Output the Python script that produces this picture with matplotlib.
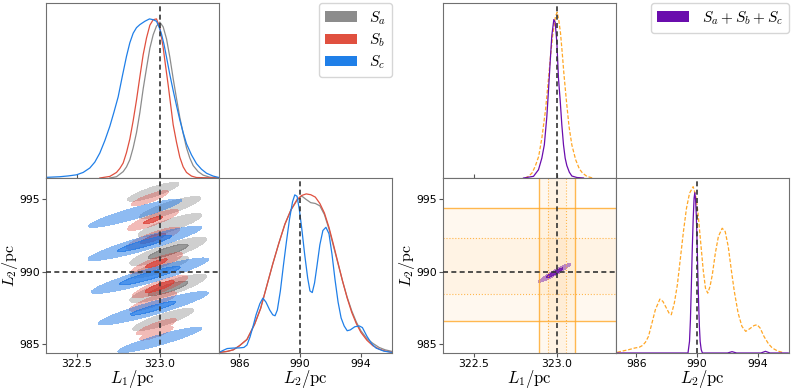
import numpy as np
import matplotlib
matplotlib.use('Agg')
import matplotlib.pyplot as plt
from matplotlib.patches import Patch

plt.rcParams['mathtext.fontset'] = 'cm'
plt.rcParams['font.family'] = ['DejaVu Sans']

truthL1 = 323.0
truthL2 = 990.0

# colours of the three sources, the combined run and the prior
colA = '#8c8c8c'
colB = '#e0503f'
colC = '#1f7fe8'
colABC = '#6a0dad'
colPrior = '#ffa726'

# ---- 1D marginal of L1 (peak normalised)
L1_a_x = [322.70, 322.74, 322.78, 322.80, 322.82, 322.84, 322.86, 322.88, 322.90, 322.92, 322.94,
          322.96, 322.98, 323.00, 323.02, 323.04, 323.06, 323.08, 323.10, 323.12, 323.14, 323.16,
          323.18, 323.20, 323.23, 323.26, 323.30, 323.35]
L1_a_y = [0.0, 0.008, 0.04, 0.07, 0.115, 0.19, 0.285, 0.41, 0.56, 0.69, 0.815, 0.9, 0.955, 0.98,
          0.95, 0.875, 0.76, 0.625, 0.5, 0.38, 0.28, 0.19, 0.125, 0.078, 0.04, 0.018, 0.005, 0.0]
L1_b_x = [322.64, 322.70, 322.74, 322.76, 322.78, 322.80, 322.82, 322.84, 322.86, 322.88, 322.90,
          322.92, 322.94, 322.96, 322.98, 323.00, 323.02, 323.035, 323.05, 323.065, 323.08, 323.10,
          323.12, 323.14, 323.16, 323.19, 323.22, 323.35]
L1_b_y = [0.0, 0.01, 0.035, 0.06, 0.094, 0.16, 0.245, 0.36, 0.49, 0.635, 0.775, 0.88, 0.96, 0.995,
          1.0, 0.945, 0.82, 0.7, 0.585, 0.46, 0.335, 0.225, 0.13, 0.07, 0.035, 0.012, 0.003, 0.0]
L1_c_x = [322.317, 322.40, 322.45, 322.50, 322.54, 322.58, 322.61, 322.64, 322.67, 322.70, 322.725,
          322.75, 322.775, 322.80, 322.82, 322.84, 322.86, 322.88, 322.91, 322.938, 322.96, 322.98,
          322.995, 323.01, 323.025, 323.04, 323.06, 323.08, 323.10, 323.12, 323.14, 323.16, 323.19,
          323.22, 323.25, 323.28, 323.32, 323.351]
L1_c_y = [0.004, 0.008, 0.013, 0.02, 0.035, 0.063, 0.10, 0.157, 0.235, 0.325, 0.415, 0.51, 0.64,
          0.765, 0.85, 0.91, 0.945, 0.964, 0.985, 1.0, 0.995, 0.985, 0.95, 0.905, 0.84, 0.76, 0.65,
          0.55, 0.455, 0.365, 0.285, 0.215, 0.145, 0.09, 0.055, 0.03, 0.012, 0.004]

# ---- 1D marginal of L2
L2_a_x = [984.7, 985.2, 985.6, 986.0, 986.5, 987.0, 987.4, 987.8, 988.2, 988.6, 989.0, 989.4,
          989.8, 990.1, 990.4, 990.7, 991.0, 991.3, 991.6, 991.9, 992.2, 992.5, 992.8, 993.1,
          993.4, 993.7, 994.0, 994.4, 994.8, 995.2, 995.6, 996.05]
L2_a_y = [0.004, 0.01, 0.02, 0.045, 0.085, 0.18, 0.28, 0.42, 0.56, 0.69, 0.81, 0.9, 0.96, 0.987,
          0.965, 0.945, 0.94, 0.925, 0.87, 0.78, 0.67, 0.56, 0.45, 0.35, 0.265, 0.195, 0.14, 0.09,
          0.06, 0.035, 0.02, 0.01]
L2_b_x = [984.7, 985.2, 985.6, 986.0, 986.5, 987.0, 987.4, 987.8, 988.2, 988.6, 989.0, 989.4,
          989.8, 990.1, 990.4, 990.7, 991.0, 991.3, 991.6, 991.9, 992.2, 992.5, 992.8, 993.1,
          993.4, 993.7, 994.0, 994.4, 994.8, 995.2, 995.6, 996.05]
L2_b_y = [0.004, 0.01, 0.02, 0.045, 0.085, 0.18, 0.28, 0.42, 0.56, 0.69, 0.81, 0.9, 0.965, 0.99,
          1.0, 0.995, 0.98, 0.94, 0.88, 0.79, 0.68, 0.565, 0.45, 0.345, 0.255, 0.185, 0.13, 0.08,
          0.045, 0.025, 0.012, 0.005]
L2_c_x = [984.71, 984.9, 985.2, 985.6, 986.0, 986.3, 986.5, 986.7, 986.9, 987.1, 987.35, 987.55,
          987.75, 988.0, 988.2, 988.35, 988.5, 988.7, 988.9, 989.1, 989.3, 989.5, 989.65, 989.8,
          989.95, 990.1, 990.3, 990.5, 990.65, 990.8, 990.95, 991.1, 991.3, 991.5, 991.7, 991.9,
          992.1, 992.3, 992.5, 992.7, 992.9, 993.1, 993.3, 993.6, 993.9, 994.1, 994.4, 994.7,
          995.0, 995.5, 996.03]
L2_c_y = [0.006, 0.015, 0.028, 0.031, 0.032, 0.035, 0.05, 0.1, 0.167, 0.24, 0.31, 0.345, 0.32,
          0.27, 0.24, 0.234, 0.27, 0.39, 0.55, 0.7, 0.84, 0.95, 0.994, 0.985, 0.9, 0.79, 0.62,
          0.47, 0.39, 0.38, 0.44, 0.54, 0.68, 0.77, 0.79, 0.75, 0.62, 0.46, 0.32, 0.22, 0.17,
          0.14, 0.145, 0.165, 0.17, 0.16, 0.105, 0.06, 0.031, 0.012, 0.004]

# ---- combined run (purple) and prior (orange dashed)
L1_abc_x = [322.80, 322.86, 322.89, 322.91, 322.925, 322.94, 322.95, 322.96, 322.97, 322.982,
            322.99, 323.00, 323.01, 323.02, 323.03, 323.04, 323.05, 323.06, 323.075, 323.09,
            323.12, 323.16]
L1_abc_y = [0.0, 0.01, 0.05, 0.12, 0.2, 0.37, 0.53, 0.7, 0.86, 0.956, 0.94, 0.82, 0.6, 0.47,
            0.32, 0.2, 0.12, 0.075, 0.035, 0.012, 0.003, 0.0]
L1_pr_x = [322.81, 322.83, 322.851, 322.87, 322.891, 322.91, 322.932, 322.95, 322.962, 322.975,
           322.992, 323.002, 323.012, 323.022, 323.032, 323.042, 323.057, 323.073, 323.09,
           323.113, 323.135, 323.154, 323.18, 323.214]
L1_pr_y = [0.0, 0.01, 0.03, 0.07, 0.13, 0.24, 0.41, 0.6, 0.734, 0.86, 0.976, 1.0, 0.95, 0.875,
           0.76, 0.634, 0.47, 0.312, 0.2, 0.11, 0.055, 0.03, 0.01, 0.0]

L2_abc_x = [984.7, 989.4, 989.5, 989.56, 989.62, 989.68, 989.74, 989.8, 989.85, 989.9, 989.95,
            990.0, 990.05, 990.1, 990.15, 990.2, 990.27, 990.35, 992.0, 992.3, 992.6, 994.2,
            994.5, 994.8, 996.0]
L2_abc_y = [0.0, 0.0, 0.07, 0.2, 0.4, 0.62, 0.8, 0.93, 0.964, 0.92, 0.82, 0.66, 0.47, 0.3, 0.16,
            0.07, 0.02, 0.0, 0.0, 0.008, 0.0, 0.0, 0.01, 0.0, 0.0]
L2_pr_x = [984.74, 985.1, 985.5, 985.9, 986.2, 986.4, 986.6, 986.8, 987.0, 987.25, 987.55,
           987.75, 987.95, 988.15, 988.3, 988.5, 988.7, 988.9, 989.1, 989.3, 989.5, 989.74,
           989.9, 990.05, 990.2, 990.4, 990.55, 990.7, 990.85, 991.0, 991.2, 991.4, 991.65,
           991.85, 992.05, 992.25, 992.45, 992.7, 992.95, 993.2, 993.45, 993.75, 993.95, 994.15,
           994.4, 994.7, 994.95, 995.3, 995.6]
L2_pr_y = [0.004, 0.012, 0.02, 0.03, 0.035, 0.045, 0.065, 0.1, 0.17, 0.26, 0.324, 0.31, 0.275,
           0.24, 0.23, 0.3, 0.41, 0.57, 0.73, 0.87, 0.96, 1.0, 0.95, 0.85, 0.7, 0.5, 0.39, 0.36,
           0.4, 0.47, 0.6, 0.7, 0.75, 0.73, 0.64, 0.5, 0.37, 0.24, 0.16, 0.13, 0.145, 0.165, 0.17,
           0.15, 0.1, 0.055, 0.03, 0.012, 0.004]

# prior bands (68% dotted, 95% solid)
priorL1_95 = [322.891, 323.109]
priorL1_68 = [322.948, 323.054]
priorL2_95 = [986.63, 994.36]
priorL2_68 = [988.47, 992.30]

# ---- 2D modes (stripes): centre L1, centre L2, weight
modesA_L1 = [322.96, 323.06, 323.06, 323.05, 323.00, 323.05, 323.02]
modesA_L2 = [995.5, 994.4, 993.2, 991.4, 990.3, 988.85, 986.7]
modesA_w = [0.35, 0.5, 0.55, 1.0, 0.45, 1.0, 0.5]
modesB_L1 = [322.94, 322.96, 322.96, 322.98, 323.00, 322.96, 322.98, 322.98]
modesB_L2 = [995.05, 993.56, 992.3, 990.58, 988.97, 987.94, 986.2, 985.76]
modesB_w = [0.35, 0.75, 0.9, 0.8, 1.0, 0.6, 0.4, 0.3]
modesC_L1 = [322.85, 322.91, 322.94, 322.96, 323.00]
modesC_L2 = [994.02, 991.95, 989.72, 987.48, 985.3]
modesC_w = [0.5, 0.9, 1.0, 0.8, 0.4]
modesABC_L1 = [322.987]
modesABC_L2 = [989.92]
modesABC_w = [1.0]

xlimL1 = (322.317, 323.355)
ylimL2 = (984.40, 996.45)
xlimL2 = (984.66, 996.05)


def stripeDensity(X, Y, m1s, m2s, ws, s1, se, slope):
    Z = np.zeros_like(X)
    for m1, m2, w in zip(m1s, m2s, ws):
        a = X - m1
        e = (Y - m2) - slope * a
        Z = np.maximum(Z, w * np.exp(-0.5 * (a ** 2 / s1 ** 2 + e ** 2 / se ** 2)))
    return Z


def drawStripes(ax, X, Y, m1s, m2s, ws, s1, se, slope, col, aLight, aDark):
    Z = stripeDensity(X, Y, m1s, m2s, ws, s1, se, slope)
    rgb = matplotlib.colors.to_rgb(col)
    ax.contourf(X, Y, Z, levels=[0.15, 0.6, 10], colors=[rgb + (aLight,), rgb + (aDark,)])


def styleAx(ax):
    for s in ax.spines.values():
        s.set_color('#707070')
    ax.tick_params(labelsize=7.8, length=3, pad=1.5, color='#555555', direction='out')


def truthLines(ax, v=None, h=None):
    if v is not None:
        ax.axvline(v, color='#333333', ls='--', lw=1.2, dashes=(3, 2), zorder=5)
    if h is not None:
        ax.axhline(h, color='#333333', ls='--', lw=1.2, dashes=(3, 2), zorder=5)


fig = plt.figure(figsize=(7.93, 3.89), dpi=100)
W, H = 793.0, 389.0


def addAx(x0, y0, x1, y1):
    return fig.add_axes([x0 / W, 1 - y1 / H, (x1 - x0) / W, (y1 - y0) / H])


g1 = np.linspace(xlimL1[0], xlimL1[1], 400)
g2 = np.linspace(ylimL2[0], ylimL2[1], 400)
X, Y = np.meshgrid(g1, g2)

labFont = 12

for side in [0, 1]:
    off = 0 if side == 0 else 397
    axT = addAx(46 + off, 3, 219 + off, 178)
    ax2 = addAx(46 + off, 178, 219 + off, 353)
    axR = addAx(219 + off, 178, 392 + off, 353)
    for ax in [axT, ax2, axR]:
        styleAx(ax)

    if side == 0:
        axT.plot(L1_a_x, L1_a_y, color=colA, lw=0.9)
        axT.plot(L1_b_x, L1_b_y, color=colB, lw=0.9)
        axT.plot(L1_c_x, L1_c_y, color=colC, lw=0.9)
        axT.set_ylim(0, 1.10)

        drawStripes(ax2, X, Y, modesA_L1, modesA_L2, modesA_w, 0.118, 0.26, 3.6, '#6e6e6e', 0.33, 0.7)
        drawStripes(ax2, X, Y, modesB_L1, modesB_L2, modesB_w, 0.085, 0.21, 4.0, '#dc3c32', 0.35, 0.8)
        drawStripes(ax2, X, Y, modesC_L1, modesC_L2, modesC_w, 0.18, 0.25, 3.2, '#1f78e6', 0.5, 0.8)

        axR.plot(L2_a_x, L2_a_y, color=colA, lw=0.9)
        axR.plot(L2_b_x, L2_b_y, color=colB, lw=0.9)
        axR.plot(L2_c_x, L2_c_y, color=colC, lw=0.9)
        axR.set_ylim(0, 1.10)
    else:
        axT.plot(L1_pr_x, L1_pr_y, color=colPrior, lw=0.9, ls='--', dashes=(3, 1.5))
        axT.plot(L1_abc_x, L1_abc_y, color=colABC, lw=0.9)
        axT.set_ylim(0, 1.056)

        # prior bands
        ax2.axvspan(priorL1_95[0], priorL1_95[1], color=colPrior, alpha=0.07, lw=0)
        ax2.axvspan(priorL1_68[0], priorL1_68[1], color=colPrior, alpha=0.05, lw=0)
        ax2.axhspan(priorL2_95[0], priorL2_95[1], color=colPrior, alpha=0.07, lw=0)
        ax2.axhspan(priorL2_68[0], priorL2_68[1], color=colPrior, alpha=0.05, lw=0)
        for v in priorL1_95:
            ax2.axvline(v, color=colPrior, lw=1.0, alpha=0.8)
        for v in priorL1_68:
            ax2.axvline(v, color=colPrior, lw=0.8, ls=':', alpha=0.8)
        for h in priorL2_95:
            ax2.axhline(h, color=colPrior, lw=1.0, alpha=0.8)
        for h in priorL2_68:
            ax2.axhline(h, color=colPrior, lw=0.8, ls=':', alpha=0.8)
        drawStripes(ax2, X, Y, modesABC_L1, modesABC_L2, modesABC_w, 0.05, 0.1, 6.4, colABC, 0.45, 0.85)

        axR.plot(L2_pr_x, L2_pr_y, color=colPrior, lw=0.9, ls='--', dashes=(3, 1.5))
        axR.plot(L2_abc_x, L2_abc_y, color=colABC, lw=0.9)
        axR.set_ylim(0, 1.052)

    axT.set_xlim(*xlimL1)
    axT.set_xticks([322.5, 323.0])
    axT.tick_params(labelbottom=False, direction='in')
    axT.set_yticks([])
    truthLines(axT, v=truthL1)

    ax2.set_xlim(*xlimL1)
    ax2.set_ylim(*ylimL2)
    ax2.set_xticks([322.5, 323.0])
    ax2.set_xticklabels(['322.5', '323.0'])
    ax2.set_yticks([985, 990, 995])
    ax2.set_xlabel(r'$L_1/\mathrm{pc}$', fontsize=labFont)
    ax2.set_ylabel(r'$L_2/\mathrm{pc}$', fontsize=11.5)
    ax2.xaxis.set_label_coords(0.5, -0.085)
    ax2.yaxis.set_label_coords(-0.15, 0.5)
    truthLines(ax2, v=truthL1, h=truthL2)

    axR.set_xlim(*xlimL2)
    axR.set_xticks([986, 990, 994])
    axR.set_yticks([])
    axR.set_xlabel(r'$L_2/\mathrm{pc}$', fontsize=labFont)
    axR.xaxis.set_label_coords(0.5, -0.085)
    truthLines(axR, v=truthL2)

# legends
hLeft = [Patch(facecolor=colA, label=r'$S_a$'),
         Patch(facecolor=colB, label=r'$S_b$'),
         Patch(facecolor=colC, label=r'$S_c$')]
fig.legend(handles=hLeft, loc='upper right', bbox_to_anchor=(392 / W, 1 - 3 / H),
           fontsize=11, handlelength=2.1, labelspacing=0.3, borderaxespad=0)
hRight = [Patch(facecolor=colABC, label=r'$S_a+S_b+S_c$')]
fig.legend(handles=hRight, loc='upper right', bbox_to_anchor=(789 / W, 1 - 3 / H),
           fontsize=11, handlelength=2.1, borderaxespad=0)

fig.savefig('out.png', dpi=100)
